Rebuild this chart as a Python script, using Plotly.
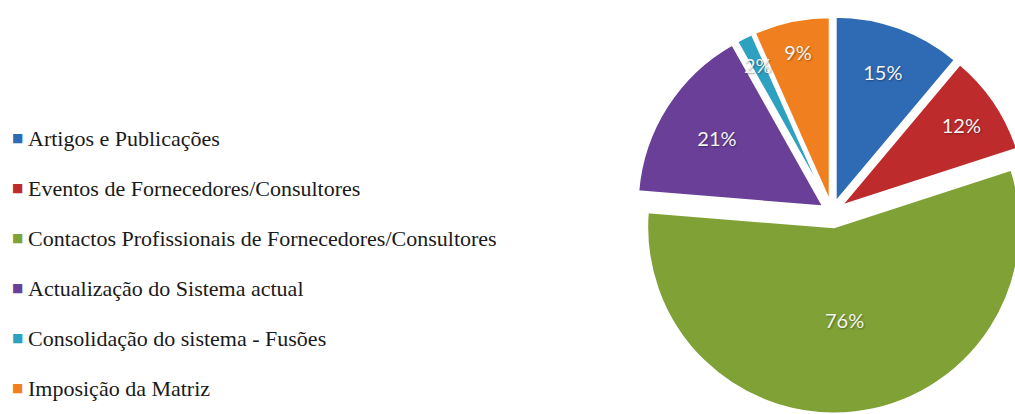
import math
import plotly.graph_objects as go

# Survey answers: share of respondents per information source (multiple answers allowed)
labels = [
    "Artigos e Publicações",
    "Eventos de Fornecedores/Consultores",
    "Contactos Profissionais de Fornecedores/Consultores",
    "Actualização do Sistema actual",
    "Consolidação do sistema - Fusões",
    "Imposição da Matriz",
]
values = [15, 12, 76, 21, 2, 9]
colors = ["#2F6AB5", "#BE2B2D", "#7FA136", "#693F98", "#2EA1C0", "#F0801F"]
pulls = [0.05, 0.05, 0.08, 0.05, 0.045, 0.045]

# Canvas is slightly larger than the window so the pie runs off the right edge
W, H = 1045, 424
cx, cy, box = 832, 212, 404
radius = box / 2 / (1 + max(pulls))

# Slices too narrow for their label get it placed near the outer rim
narrow = [v / sum(values) < 0.03 for v in values]

label_font = dict(family="Lato", size=20, color="#F4F4F0",
                  shadow="1px 1px 2px rgba(0,0,0,0.35)")

fig = go.Figure(
    go.Pie(
        labels=labels,
        values=values,
        sort=False,
        direction="clockwise",
        rotation=0,
        pull=pulls,
        marker=dict(colors=colors, line=dict(color="white", width=3)),
        texttemplate="%{value}%",
        textposition=["none" if n else "inside" for n in narrow],
        insidetextorientation="horizontal",
        textfont=label_font,
        showlegend=False,
        hoverinfo="label+value",
        domain=dict(
            x=[(cx - box / 2) / W, (cx + box / 2) / W],
            y=[(H - cy - box / 2) / H, (H - cy + box / 2) / H],
        ),
    )
)

annotations = []

# Labels of the narrow slices, placed along each slice's bisector
total = sum(values)
cum = 0
for v, n in zip(values, narrow):
    mid = (cum + v / 2) / total * 2 * math.pi
    cum += v
    if n:
        px = cx + 0.88 * radius * math.sin(mid)
        py = cy - 0.88 * radius * math.cos(mid)
        annotations.append(dict(
            x=px / W, y=1 - py / H, xref="paper", yref="paper",
            xanchor="center", yanchor="middle", showarrow=False,
            text=f"{v}%", font=label_font,
        ))

# Legend drawn as a column of coloured squares with labels
top, step = 138, 50
for i, (lab, col) in enumerate(zip(labels, colors)):
    yp = 1 - (top + i * step) / H
    annotations.append(dict(
        x=17 / W, y=yp, xref="paper", yref="paper", xanchor="center", yanchor="middle",
        text="■", showarrow=False, font=dict(family="DejaVu Sans", size=12, color=col),
    ))
    annotations.append(dict(
        x=26 / W, y=yp, xref="paper", yref="paper", xanchor="left", yanchor="middle",
        text=lab, showarrow=False,
        font=dict(family="Liberation Serif, Times New Roman, serif", size=22, color="#1A1A1A"),
    ))

fig.update_layout(
    width=W,
    height=H,
    margin=dict(l=0, r=0, t=0, b=0),
    paper_bgcolor="white",
    plot_bgcolor="white",
    annotations=annotations,
)

fig.write_html(
    "out.html",
    post_script=(
        "document.body.style.margin='0';"
        "document.body.style.overflow='hidden';"
        "document.documentElement.style.overflow='hidden';"
    ),
)
